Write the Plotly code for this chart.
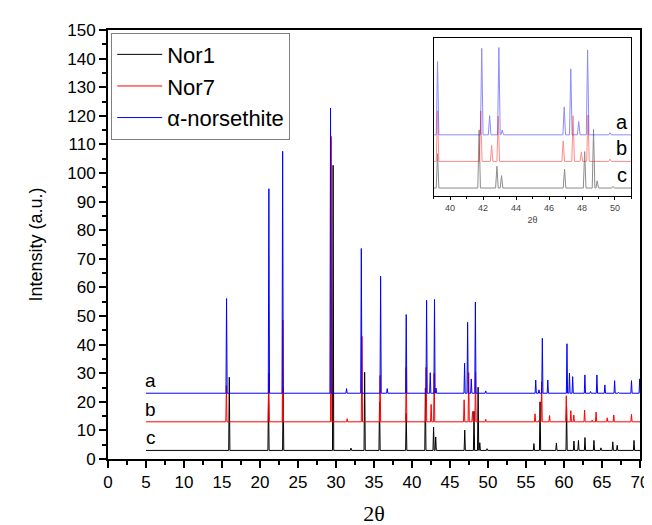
import plotly.graph_objects as go

# ---- data (2theta position, peak-top intensity incl. offset) ----
nor1_base = 3
nor1_pos = [15.96, 21.12, 23.05, 29.62, 31.97, 33.77, 35.73, 39.24, 41.76, 42.84, 43.12,
            46.94, 48.16, 48.70, 48.92, 49.88, 56.04, 56.85, 59.00, 60.34, 61.31, 61.90,
            62.76, 63.94, 64.86, 66.42, 67.00, 69.21]
nor1_top = [28.6, 22.0, 25.0, 102.7, 3.8, 30.3, 20.0, 15.9, 24.8, 11.2, 7.7,
            10.1, 16.7, 25.1, 5.7, 3.6, 5.4, 20.0, 5.6, 18.0, 6.3, 6.5,
            7.5, 6.5, 3.9, 6.0, 4.8, 6.5]

nor7_base = 13
nor7_pos = [15.58, 21.15, 23.00, 29.36, 31.47, 33.41, 35.80, 39.24, 41.86, 42.52, 42.92,
            46.86, 47.46, 47.96, 48.36, 49.70, 56.19, 56.71, 57.06, 58.10, 60.30, 60.90,
            61.29, 62.71, 63.70, 64.22, 65.69, 66.55, 68.88]
nor7_top = [25.7, 30.0, 48.6, 112.8, 14.1, 42.9, 29.2, 32.0, 32.0, 19.1, 30.0,
            20.7, 30.2, 16.6, 30.5, 13.9, 15.8, 13.5, 27.0, 15.2, 22.1, 16.9,
            15.4, 17.1, 13.6, 16.4, 14.4, 15.4, 15.6]

alpha_base = 23
alpha_pos = [15.60, 21.17, 22.98, 29.28, 31.39, 33.33, 35.87, 36.74, 39.24, 41.92, 42.40,
             42.96, 43.16, 46.92, 47.32, 47.80, 48.34, 49.70, 56.28, 56.71, 57.15, 57.87,
             60.39, 60.72, 61.14, 62.75, 63.49, 64.33, 65.38, 66.66, 67.19, 68.88, 69.96]
alpha_top = [56.1, 94.5, 107.6, 122.7, 24.6, 73.6, 63.9, 24.6, 50.5, 55.5, 30.2,
             55.8, 24.8, 33.5, 47.8, 28.0, 54.9, 23.8, 27.6, 24.2, 42.2, 27.6,
             40.3, 30.0, 28.8, 29.4, 23.6, 29.4, 25.9, 27.4, 23.3, 27.4, 28.0]

series_names = ["Nor1", "Nor7", "α-norsethite"]
series_labels = ["c", "b", "a"]
x_start, x_end = 5, 70
half_width = 0.08


def profile(base, pos, top):
    xs, ys = [x_start], [base]
    for p, t in zip(pos, top):
        xs += [p - half_width, p, p + half_width]
        ys += [base, t, base]
    xs.append(x_end)
    ys.append(base)
    return xs, ys


series = [(nor1_base, nor1_pos, nor1_top, "#000000"),
          (nor7_base, nor7_pos, nor7_top, "#ff0000"),
          (alpha_base, alpha_pos, alpha_top, "#0000ff")]

fig = go.Figure()
for (base, pos, top, col), name in zip(series, series_names):
    xs, ys = profile(base, pos, top)
    fig.add_trace(go.Scatter(x=xs, y=ys, mode="lines", name=name,
                             line=dict(color=col, width=1)))
# inset (same data, zoomed)
for (base, pos, top, col), name in zip(series, series_names):
    xs, ys = profile(base, pos, top)
    fig.add_trace(go.Scatter(x=xs, y=ys, mode="lines", name=name, showlegend=False,
                             opacity=0.45, line=dict(color=col, width=1),
                             xaxis="x2", yaxis="y2"))

font_main = "Liberation Sans, Arial, sans-serif"
annotations = []
for (base, _, _, _), lab in zip(series, series_labels):
    annotations.append(dict(x=5.6, y=base, xref="x", yref="y", text=lab, showarrow=False,
                            yanchor="bottom", xanchor="center",
                            font=dict(family=font_main, size=19, color="black")))
    annotations.append(dict(x=50.4, y=base, xref="x2", yref="y2", text=lab, showarrow=False,
                            yanchor="bottom", xanchor="center",
                            font=dict(family=font_main, size=20, color="black")))

fig.update_layout(
    width=652, height=525,
    margin=dict(l=100, r=11, t=22, b=66),
    paper_bgcolor="white", plot_bgcolor="white",
    font=dict(family=font_main, size=17, color="black"),
    showlegend=True,
    legend=dict(x=0.006, y=0.994, xanchor="left", yanchor="top",
                bgcolor="white", bordercolor="#808080", borderwidth=1,
                font=dict(family=font_main, size=22, color="black"),
                itemwidth=45, tracegroupgap=0),
    annotations=annotations,
    xaxis=dict(range=[0, 70], dtick=5, tick0=0, showgrid=False, zeroline=False,
               showline=True, linecolor="black", linewidth=2, mirror=True,
               ticks="outside", ticklen=7, tickwidth=2, tickcolor="black",
               minor=dict(dtick=2.5, ticks="outside", ticklen=4, tickcolor="black", tickwidth=2),
               tickfont=dict(size=17),
               title=dict(text="2θ", standoff=14,
                          font=dict(family="Liberation Serif, Times New Roman, serif", size=22))),
    yaxis=dict(range=[0, 150], dtick=10, tick0=0, showgrid=False, zeroline=False,
               showline=True, linecolor="black", linewidth=2, mirror=True,
               ticks="outside", ticklen=7, tickwidth=2, tickcolor="black",
               minor=dict(dtick=5, ticks="outside", ticklen=4, tickcolor="black", tickwidth=2),
               tickfont=dict(size=17),
               title=dict(text="Intensity (a.u.)", standoff=20, font=dict(size=18))),
    xaxis2=dict(domain=[0.612, 0.984], anchor="y2", range=[39, 51], dtick=2, tick0=40,
                showgrid=False, zeroline=False, showline=True, linecolor="black",
                linewidth=1, mirror=True, ticks="outside", ticklen=3, tickcolor="black",
                minor=dict(dtick=1, ticks="outside", ticklen=2, tickcolor="black"),
                tickfont=dict(size=9, color="#444444"),
                title=dict(text="2θ", standoff=4, font=dict(size=9, color="#444444"))),
    yaxis2=dict(domain=[0.613, 0.982], anchor="x2", range=[0, 59.5],
                showgrid=False, zeroline=False, showline=True, linecolor="black",
                linewidth=1, mirror=True, showticklabels=False, ticks=""),
)

fig.write_html("out.html")
